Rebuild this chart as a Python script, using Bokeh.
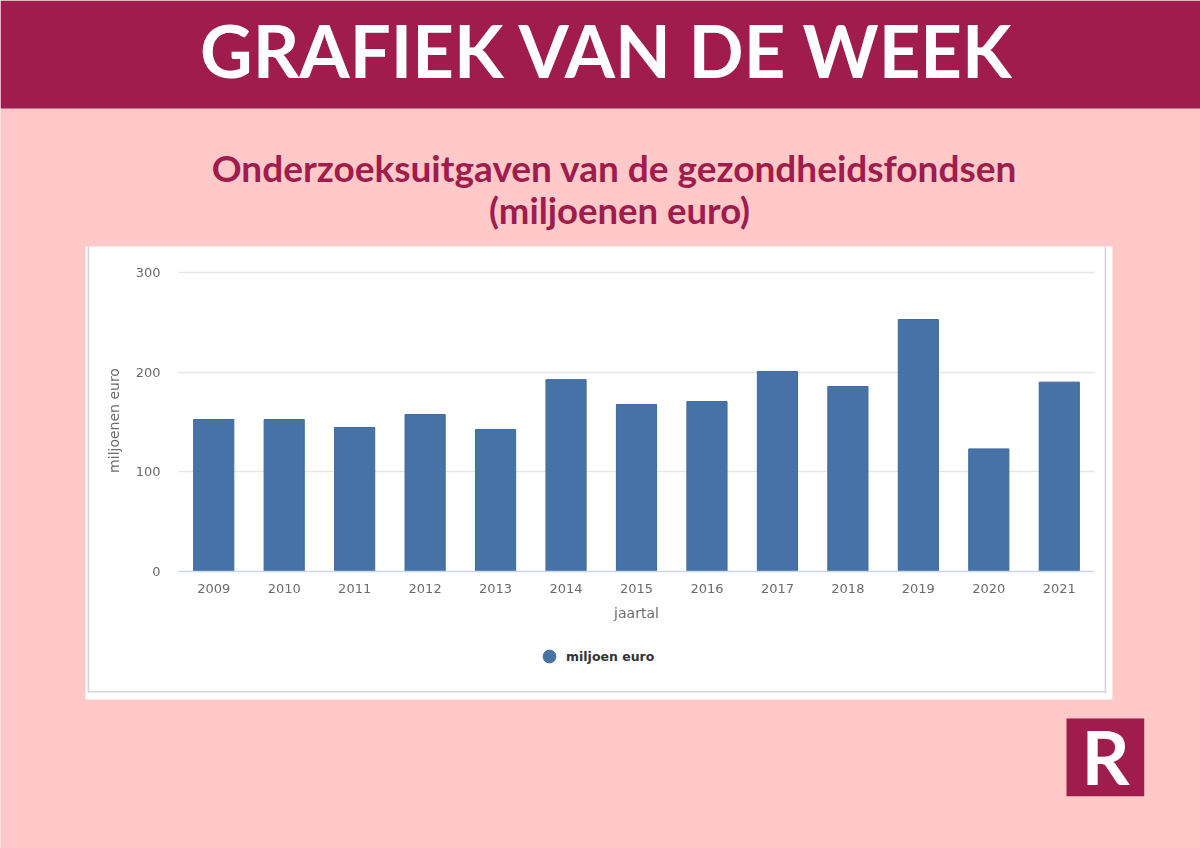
from bokeh.embed import file_html
from bokeh.models import Label, Legend, LegendItem, Range1d
from bokeh.plotting import figure
from bokeh.resources import INLINE

years = ["2009", "2010", "2011", "2012", "2013", "2014", "2015", "2016", "2017", "2018", "2019", "2020", "2021"]
uitgaven = [152.5, 152.5, 144.5, 157.5, 142.5, 192.5, 167.5, 170.5, 200.7, 185.6, 252.8, 123, 190]
y_ticks = [0, 100, 200, 300]

roze = "#fec9c8"
bordeaux = "#a01c4c"
blauw = "#4672a8"
grijs = "#6b6b6b"
W, H = 1200, 848

# background sheet in pixel coordinates: bands, white panel, logo, titles, legend
bg = figure(x_range=Range1d(0, W), y_range=Range1d(H, 0), width=W, height=H,
            output_backend="svg", toolbar_location=None, x_axis_type=None, y_axis_type=None,
            min_border=0, outline_line_color=None, background_fill_color=roze, border_fill_color=roze)
bg.grid.visible = False

bg.quad(left=0, right=W, top=0, bottom=108, fill_color=bordeaux, line_color=None)
bg.quad(left=85, right=1112, top=246, bottom=699, fill_color="white", line_color=None)
bg.quad(left=87.2, right=88.8, top=246, bottom=692, fill_color="#d4d4d4", line_color=None)
bg.quad(left=1104.2, right=1105.8, top=246, bottom=692, fill_color="#d4d4d4", line_color=None)
bg.quad(left=87.2, right=1105.8, top=690.4, bottom=692, fill_color="#d4d4d4", line_color=None)
bg.quad(left=1066, right=1143.7, top=718, bottom=795.7, fill_color=bordeaux, line_color=None)

def tekst(x, y, s, size, color):
    bg.add_layout(Label(x=x, y=y, text=s, text_font="Lato", text_font_size=size, text_font_style="bold",
                        text_color=color, text_align="center", text_baseline="alphabetic"))

tekst(607, 49, "GRAFIEK VAN DE WEEK", "72.5px", "white")
tekst(614, 167, "Onderzoeksuitgaven van de gezondheidsfondsen", "37px", bordeaux)
tekst(619, 209, "(miljoenen euro)", "36.5px", bordeaux)
tekst(1105, 755, "R", "75px", "white")

stip = bg.scatter(x=[0], y=[float("nan")], marker="circle", fill_color=blauw, line_color=blauw)
legend = Legend(items=[LegendItem(label="miljoen euro", renderers=[stip])], location=(533, 176),
                orientation="horizontal", background_fill_alpha=0, border_line_color=None,
                glyph_width=32, glyph_height=32, label_standoff=1, padding=0, margin=0,
                label_text_font="DejaVu Sans", label_text_font_size="12.5px",
                label_text_font_style="bold", label_text_color="#333333")
bg.add_layout(legend)

# the chart itself, laid over the white panel
p = figure(x_range=years, y_range=Range1d(0, 303), width=1010, height=370,
           output_backend="svg", toolbar_location=None,
           min_border_left=78, min_border_right=16, min_border_top=9, min_border_bottom=59,
           border_fill_color=None, background_fill_color=None, outline_line_color=None)
p.styles = {"position": "fixed", "left": "100px", "top": "260px"}

p.vbar(x=years, top=uitgaven, width=0.57, fill_color=blauw, line_color="#3f6a9e", line_width=1)

p.xgrid.visible = False
p.ygrid.ticker = y_ticks
p.ygrid.grid_line_color = "#e6e6e6"
p.ygrid.grid_line_width = 1.5

p.yaxis.ticker = y_ticks
p.yaxis.axis_line_color = None
p.yaxis.major_tick_line_color = None
p.yaxis.minor_tick_line_color = None
p.yaxis.major_tick_out = 0
p.yaxis.minor_tick_out = 0
p.yaxis.major_label_standoff = 18
p.yaxis.axis_label = "miljoenen euro"
p.yaxis.axis_label_standoff = 11

p.xaxis.axis_line_color = "#ccd6eb"
p.xaxis.axis_line_width = 1.5
p.xaxis.major_tick_line_color = None
p.xaxis.major_tick_out = 0
p.xaxis.major_label_standoff = 12
p.xaxis.axis_label = "jaartal"
p.xaxis.axis_label_standoff = 9

for ax in (p.xaxis[0], p.yaxis[0]):
    ax.major_label_text_font = "DejaVu Sans"
    ax.major_label_text_font_size = "13px"
    ax.major_label_text_color = grijs
    ax.axis_label_text_font = "DejaVu Sans"
    ax.axis_label_text_font_size = "14px"
    ax.axis_label_text_font_style = "normal"
    ax.axis_label_text_color = grijs

# two roots, a shared column would line up their frames and squeeze the sheet
open("out.html", "w").write(file_html([bg, p], INLINE))
